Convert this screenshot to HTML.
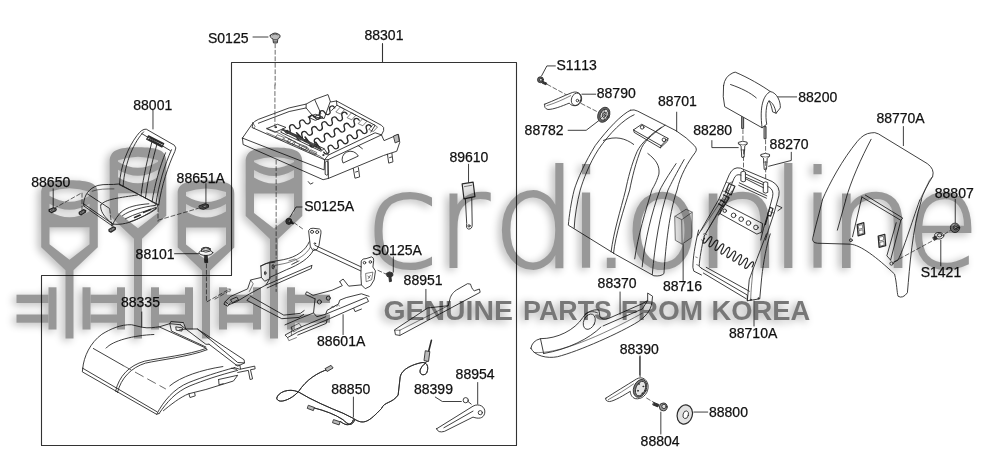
<!DOCTYPE html>
<html lang="en"><head><meta charset="utf-8"><title>crdi.online - GENUINE PARTS FROM KOREA - seat parts diagram</title>
<style>
html,body{margin:0;padding:0;background:#fff}
svg{display:block;filter:grayscale(1)}
.art path,.art line,.art polyline,.art polygon,.art ellipse,.art circle,.art rect{fill:none;stroke:#2a2a2a;stroke-width:0.9;stroke-linecap:round;stroke-linejoin:round}
.art *{vector-effect:non-scaling-stroke}
.art .f{fill:#fff}
.art .k{fill:#333}
.art .g{fill:#bbb}
.art .d{stroke-dasharray:4 2.5;stroke:#444;stroke-width:0.8}
.art .t{stroke-width:0.6}
.lbl text{font-family:"Liberation Sans", sans-serif;font-size:14px;font-kerning:none;fill:#111;stroke:#111;stroke-width:0.25px}
</style></head>
<body>
<svg width="1000" height="471" viewBox="0 0 1000 471">
<defs>
<filter id="sh" x="-5%" y="-15%" width="110%" height="130%">
<feGaussianBlur in="SourceAlpha" stdDeviation="4.5" result="b"/>
<feOffset in="b" dx="-3.5" dy="2" result="o"/>
<feFlood flood-color="#000" flood-opacity="0.72"/>
<feComposite in2="o" operator="in" result="s"/>
<feMerge><feMergeNode in="s"/><feMergeNode in="SourceGraphic"/></feMerge>
</filter>
</defs>
<rect width="1000" height="471" fill="#fff"/>
<g class="art">
<path d="M382.5,43.5 V62.5 M231.5,275.5 V62.5 H516.5 V445.5 H41.5 V275.5 H231.5" style="stroke-width:1.1;stroke:#333"/>
<g transform="translate(70,110) scale(0.22306)">
<path d="M372,0 V85"/>
<path d="M222,335 C225,250 262,165 300,115 Q322,84 342,86 L468,158 Q480,168 470,186 C440,250 410,340 398,425"/>
<path d="M455,178 C425,245 398,330 384,428"/>
<path d="M330,98 C290,140 245,230 238,343"/>
<path d="M322,106 L450,182"/>
<path d="M368,140 C350,210 330,290 318,385"/>
<path d="M390,152 C372,220 350,300 338,396"/>
<path d="M428,192 C405,250 380,330 368,412"/>
<path d="M222,335 L398,425"/>
<path d="M352,116 L420,150 L412,166 L344,131 Z M358,124 L412,151 M354,131 L408,158" style="stroke-width:1.3"/>
</g>
<g transform="translate(30,170) scale(0.16000)">
<path d="M145,118 V235"/>
<path d="M150,240 L320,145 M325,145 V255 M498,245 L512,360 M800,235 V320" class="d"/>
<path d="M120,248 l28,-12 l16,8 l-4,10 l-26,12 l-14,-8 Z" style="fill:#aaa;stroke-width:1.3"/><path d="M134,250 l16,-7 l6,4 l-16,7 Z" class="f t"/>
<path d="M308,264 l26,-16 l14,6 l-2,10 l-26,16 l-12,-6 Z" style="fill:#aaa;stroke-width:1.3"/><path d="M320,266 l16,-10 l6,3 l-16,10 Z" class="f t"/>
<path d="M494,372 l26,-16 l14,6 l-2,10 l-26,16 l-12,-6 Z" style="fill:#aaa;stroke-width:1.3"/><path d="M506,374 l16,-10 l6,3 l-16,10 Z" class="f t"/>
</g>
<g transform="translate(75,178) scale(0.11455)">
<path d="M75,225 C80,150 120,90 200,65 C260,50 320,62 385,52 L550,140 L722,235"/>
<path d="M75,225 L330,402 C400,412 480,392 560,352 C620,322 690,282 722,250 L722,235"/>
<path d="M75,225 L78,245 L328,420 L332,402"/>
<path d="M110,140 L300,265 M225,235 C260,182 400,172 545,148"/>
<path d="M225,235 C215,280 250,340 330,402" />
<path d="M150,115 C200,95 280,95 340,95" class="t"/>
<path d="M400,300 C450,250 550,232 645,225"/>
<path d="M415,328 C480,280 600,252 695,240"/>
<path d="M440,356 C520,312 620,290 705,258"/>
<path d="M480,382 C560,352 640,322 712,268"/>
<path d="M520,345 l50,-22 M600,300 l60,-25" style="stroke-width:1.6"/>
<path d="M330,402 C350,360 380,320 400,300"/>
</g>
<g transform="translate(130,190) scale(0.25478)">
<path d="M298,-25 V55"/>
<path d="M272,62 l22,-8 l14,4 l0,10 l-20,8 l-14,-4 Z" style="fill:#777"/>
<path d="M285,64 l12,-4 l8,3 l-12,5 Z" class="f t"/>
<path d="M112,118 L268,72" class="d"/>
<path d="M175,250 H272"/>
<ellipse cx="298" cy="246" rx="27" ry="11" class="f"/>
<path d="M281,240 v-8 q17,-10 34,0 v8 q-17,8 -34,0 Z" class="f"/>
<ellipse cx="298" cy="231" rx="17" ry="6"/>
<path d="M293,257 h10 l2,28 h-10 Z" class="k"/>
<path d="M300,290 V440 L392,388" class="d"/>
</g>
<g transform="translate(70,295) scale(0.21231)">
<path d="M338,80 V150"/>
<path d="M60,345 C65,290 95,225 150,185 C190,160 240,138 290,140 L340,152 C370,158 400,152 420,150 L470,135 L520,140"/>
<path d="M60,345 L58,362 L408,562 L420,558"/>
<path d="M60,345 L410,550"/>
<path d="M408,562 C440,500 490,440 560,412 C620,388 700,362 775,342"/>
<path d="M420,558 C455,505 500,455 565,428 C630,402 700,378 790,355"/>
<path d="M215,452 C230,382 280,332 350,312 C420,297 560,282 640,252"/>
<path d="M224,458 C240,392 288,342 355,321 C425,305 565,290 645,258"/>
<path d="M215,452 L224,458"/>
<path d="M110,252 L250,332"/>
<path d="M250,332 L450,442" class="d" style="stroke-dasharray:9 5"/>
<path d="M170,250 C200,215 300,190 395,186"/>
<path d="M420,150 L640,250 L645,258"/>
<path d="M470,135 L478,170 L640,245 M520,140 L545,160 L640,232 L655,232"/>
<path d="M470,135 l5,-10 l60,5 l10,30 l-30,5 M500,150 l30,5 l-3,15 l-25,-4 Z"/>
<path d="M545,160 L600,160 L820,305 L822,320 L790,335 L655,232"/>
<path d="M600,160 L790,318 L822,320"/>
<path d="M470,428 C520,385 620,352 720,337"/>
<path d="M775,342 L800,350 L870,335 L872,348 L850,352 L860,395 L848,398 L840,355 L790,365"/>
<path d="M780,330 l20,0 l3,18 M760,345 l25,5"/>
<path d="M560,465 l5,18 l25,-8 l-3,-14 M700,398 l2,25 l20,-5 M700,398 L790,378 L770,405 L640,445 L560,465 C520,480 470,520 440,545"/>
</g>
<g transform="translate(235,85) scale(0.21231)">
<path d="M188,0 V200" class="d"/>
<path d="M35,250 L80,185 Q90,170 110,162 L255,108 L335,90 L375,68 L438,45 L450,80 L478,75 L690,190 Q705,198 700,215 L690,235"/>
<path d="M35,250 L38,280 L415,446 L440,440 L438,352"/>
<path d="M35,250 L420,400 L422,352 L80,200 L85,180"/>
<path d="M422,352 L438,352 L690,235 L702,262 L770,233 L776,270 L762,312 L700,332 L440,440"/>
<path d="M426,362 q7,-6 12,0 v60 q-6,6 -12,0 Z"/>
<path d="M508,366 A37,35 0 0 1 580,333 Z"/>
<path d="M557,393 l8,46 l22,-6 l-6,-44 M568,410 l10,-3" />
<path d="M718,326 l6,42 l20,-6 l-5,-40 M728,342 l10,-3"/>
<path d="M345,455 l10,12 l12,-6" />
<path d="M748,240 l20,-8 l6,32 l-18,8 Z" class="g"/>
<path d="M110,180 L255,125 L335,108 L370,150 L420,158 L448,80 M375,68 L405,135 L370,150 M335,90 L335,108"/>
<path d="M345,150 l35,-12 l35,14 l-35,14 Z M375,150 l6,-2"/>
<path d="M150,205 l50,-20 l40,15 l-50,22 Z"/>
<path d="M455,120 L480,95 L660,190 L640,222 M480,95 L478,75"/>
<path d="M225,210 L420,300 L440,330 L422,352 M225,210 L215,222 L405,312 L420,300"/>
<path d="M440,330 L660,225 L690,235 M580,285 L600,300"/>
<path d="M150,225 L400,335 L420,350" class="t"/>
<path d="M200,235 l30,12 l-8,14 l-30,-12 Z M255,255 l30,12 l-8,14 l-30,-12 Z M310,280 l30,12 l-8,14 l-30,-12 Z" class="t"/>
<path d="M495,105 l-20,22 l22,10 l18,-20 Z M548,132 l-20,22 l22,10 l18,-20 Z M600,160 l-20,22 l22,10 l18,-20 Z M650,187 l-20,22 l22,10 l18,-20 Z" class="t"/>
<path d="M240,215 l60,28 M250,225 l60,28 M290,225 l40,40 M330,245 l30,40 M380,270 l25,35" style="stroke-width:1.6"/>
<path d="M470.0,108.0 C460.4,90.5 439.2,100.4 446.5,119.0 C453.8,137.6 432.6,147.5 423.0,130.0 C413.4,112.5 392.2,122.4 399.5,141.0 C406.8,159.6 385.6,169.5 376.0,152.0 C366.4,134.5 345.2,144.4 352.5,163.0 C359.8,181.6 338.6,191.5 329.0,174.0 C319.4,156.5 298.2,166.4 305.5,185.0 C312.8,203.6 291.6,213.5 282.0,196.0 C272.4,178.5 251.2,188.4 258.5,207.0 C265.8,225.6 244.6,235.5 235.0,218.0" style="stroke-width:1.3"/><path d="M528.0,137.0 C518.2,119.6 497.0,129.7 504.4,148.3 C511.8,166.9 490.6,177.0 480.8,159.6 C471.0,142.2 449.8,152.3 457.2,170.9 C464.6,189.5 443.4,199.6 433.6,182.2 C423.8,164.8 402.6,174.9 410.0,193.5 C417.4,212.1 396.2,222.2 386.4,204.8 C376.6,187.4 355.4,197.5 362.8,216.1 C370.2,234.7 349.0,244.8 339.2,227.4 C329.4,210.0 308.2,220.1 315.6,238.7 C323.0,257.3 301.8,267.4 292.0,250.0" style="stroke-width:1.3"/><path d="M585.0,166.0 C574.9,148.8 553.9,159.3 561.7,177.7 C569.5,196.1 548.5,206.6 538.4,189.4 C528.3,172.2 507.3,182.7 515.1,201.1 C522.9,219.5 501.9,230.0 491.8,212.8 C481.7,195.6 460.7,206.1 468.5,224.5 C476.3,242.9 455.3,253.4 445.2,236.2 C435.1,219.0 414.1,229.5 421.9,247.9 C429.7,266.3 408.7,276.8 398.6,259.6 C388.5,242.4 367.5,252.9 375.3,271.3 C383.1,289.7 362.1,300.2 352.0,283.0" style="stroke-width:1.3"/><path d="M642.0,196.0 C631.5,179.0 611.3,189.8 619.6,208.0 C627.9,226.2 607.7,237.0 597.2,220.0 C586.7,203.0 566.5,213.8 574.8,232.0 C583.1,250.2 562.9,261.0 552.4,244.0 C541.9,227.0 521.7,237.8 530.0,256.0 C538.3,274.2 518.1,285.0 507.6,268.0 C497.1,251.0 476.9,261.8 485.2,280.0 C493.5,298.2 473.3,309.0 462.8,292.0 C452.3,275.0 432.1,285.8 440.4,304.0 C448.7,322.2 428.5,333.0 418.0,316.0" style="stroke-width:1.3"/></g>
<g transform="translate(215,215) scale(0.25478)">
<path d="M240,-215 V170 M240,215 V300" class="d"/>
<path d="M310,30 L345,55" class="d"/>
<circle cx="290" cy="25" r="12" style="fill:#555"/><circle cx="293" cy="25" r="5.5" style="fill:#ccc"/><path d="M296,28 l10,5" style="stroke-width:2"/>
<path d="M368,60 Q372,50 385,52 L410,55 Q418,58 416,70 L408,120 L400,135 L385,140 L375,125 Z"/>
<circle cx="381" cy="66" r="6"/><circle cx="401" cy="67" r="6"/><circle cx="392" cy="112" r="3"/>
<path d="M370,105 C355,140 320,165 270,175 L215,185 L180,200"/>
<path d="M385,140 C370,170 330,195 280,215 L215,245"/>
<path d="M375,125 C360,155 325,178 275,190 L235,198" class="t"/>
<path d="M290,180 l25,-8 l10,10 l-20,10 M300,195 l30,-15" class="t"/>
<path d="M180,200 L182,245 L195,260 L215,250 L215,185 M180,200 L200,190 L235,185"/>
<ellipse cx="228" cy="203" rx="4" ry="9"/><ellipse cx="197" cy="228" rx="3" ry="7"/>
<path d="M182,245 L140,255 L128,290 L60,320 L40,340 L55,352 L85,340 L135,310 L200,275 L215,250"/>
<path d="M140,255 L150,270 L135,300" class="t"/>
<path d="M200,275 L380,198 M205,286 L378,210 L380,198"/>
<path d="M40,340 L35,350 L50,358 L60,345 M62,332 L85,322 L92,332 L70,344 Z"/>
<path d="M0,330 L55,298" class="d"/><path d="M50,290 l12,3 l-5,9" class="t"/>
<path d="M135,325 L125,335 L262,407 L330,402 L348,390 M138,318 L270,393 L335,386 L350,375"/>
<path d="M300,440 L330,425 L340,440 L310,458 Z M300,440 V471" class="t"/>
</g>
<g transform="translate(285,225) scale(0.25478)">
<path d="M118,80 L300,165 M112,94 L297,180"/>
<path d="M300,140 Q305,130 318,132 L340,125 Q350,128 348,140 L345,165 L355,180 L350,215 L335,240 L315,250 L300,235 L298,200 Z"/>
<circle cx="312" cy="148" r="5"/><circle cx="335" cy="145" r="5"/>
<path d="M318,190 L345,185 L340,215 L320,222 Z M325,200 l8,8 M335,198 l-8,12" class="t"/>
<path d="M215,222 L228,212 L250,240 L300,235 M215,222 L225,238 L185,256 L110,276 L85,262 L80,272 L118,290"/>
<path d="M118,290 L112,345 L125,360 L160,350 L165,335 L210,310 L215,295 L240,285 L300,270 L330,280"/>
<circle cx="135" cy="302" r="8"/><circle cx="170" cy="287" r="8"/>
<path d="M180,325 q5,-12 12,-2 q6,-12 12,-4 q5,-10 10,-2" class="t"/>
<path d="M0,392 L60,366 L112,345 M160,350 L320,284 L328,300 L165,372 L50,420 L10,442 L0,432 L40,410 L160,360"/>
<path d="M165,372 L162,386 L50,432 M270,328 l5,12 l25,-10"/>
<path d="M10,442 l5,12 l30,-12" class="t"/>
<path d="M228,352 V430"/>
<path d="M365,178 L395,192" class="d"/>
<path d="M398,190 l12,-6 l12,4 l2,10 l-10,8 l-12,-4 Z" class="k"/><path d="M408,205 l2,18 l8,-2 l-2,-16" class="k"/>
<path d="M425,125 V185"/>
</g>
<path d="M302,207 H296 L290,217"/>
<g transform="translate(265,330) scale(0.26001)">
<path d="M340,258 V335 M818,202 V285 M655,258 L682,275 H755"/>
<g style="stroke-width:2.6;stroke:#333"><path d="M245,150 C200,165 160,190 128,238 C90,222 50,240 45,262 C50,287 100,268 128,238 C180,270 250,300 300,320 L340,340 C380,368 400,352 448,302 C458,276 490,282 512,250 L520,180 C525,150 570,132 600,126 C622,120 632,140 622,165 C610,180 590,170 598,150 C605,135 618,128 626,118"/>
<path d="M190,300 C230,310 270,325 300,345 C320,365 335,372 345,345 M290,352 C310,368 330,372 340,345"/></g>
<g style="stroke-width:1;stroke:#fff"><path d="M245,150 C200,165 160,190 128,238 C90,222 50,240 45,262 C50,287 100,268 128,238 C180,270 250,300 300,320 L340,340 C380,368 400,352 448,302 C458,276 490,282 512,250 L520,180 C525,150 570,132 600,126 C622,120 632,140 622,165 C610,180 590,170 598,150 C605,135 618,128 626,118"/>
<path d="M190,300 C230,310 270,325 300,345 C320,365 335,372 345,345 M290,352 C310,368 330,372 340,345"/></g>
<path d="M232,148 l22,-12 l8,10 l-22,13 Z" class="g"/>
<path d="M168,290 l22,8 l-4,12 l-22,-8 Z" class="g"/>
<path d="M265,345 l24,8 l-4,12 l-24,-8 Z" class="g"/>
<path d="M618,80 l16,3 l-5,38 l-16,-3 Z" class="g"/><path d="M630,80 L640,40" style="stroke-width:1.6"/>
<path d="M660,380 L800,293 C822,280 850,295 845,320 C840,342 820,342 800,335 L690,390 Q665,397 660,380 Z" class="f"/>
<path d="M688,376 L800,312"/>
<circle cx="828" cy="318" r="8"/>
<circle cx="772" cy="270" r="10"/><path d="M781,275 l12,10"/>
</g>
<g transform="translate(390,130) scale(0.45662)">
<path d="M172,75 V115"/>
<path d="M158,118 l24,-4 l4,32 l-24,5 Z" style="fill:#e8e8e8;stroke-width:1.2"/>
<path d="M163,124 l16,-3" class="t"/>
<path d="M165,150 L168,205 Q166,216 172,217 Q180,217 180,208 L179,148"/>
<circle cx="173" cy="210" r="2.5"/>
</g>
<g transform="translate(385,270) scale(0.14870)">
<path d="M275,130 V262"/>
<path d="M65,405 L70,435 L100,440 L640,150 L635,128 L600,140 C585,130 580,110 575,95 L555,92 L480,135 C450,155 440,180 435,200 L425,240 L290,255 Z"/>
<path d="M100,405 V440 M100,405 H66 M100,405 L425,240" class="t"/>
</g>
<g transform="translate(515,50) scale(0.21245)">
<path d="M190,75 H150 L125,122 M380,208 H315 M250,378 H335 L395,332"/>
<circle cx="120" cy="140" r="14" style="fill:#666"/><circle cx="122" cy="140" r="7" style="fill:#ddd"/>
<path d="M132,148 l18,8 l-4,8 l-18,-8 Z" class="k"/>
<path d="M152,162 L262,222 M312,252 L398,296" class="d"/>
<path d="M140,255 C180,240 230,215 270,200 C300,190 320,215 312,240 C305,265 270,270 255,250 C220,265 180,280 155,280 Q135,275 140,255 Z" class="f"/>
<ellipse cx="288" cy="232" rx="22" ry="30" transform="rotate(20 288 232)"/>
<circle cx="294" cy="238" r="6"/>
<path d="M150,262 C190,250 230,232 262,215" class="t"/>
<ellipse cx="418" cy="305" rx="27" ry="37" transform="rotate(25 418 305)" style="fill:#666"/>
<ellipse cx="420" cy="305" rx="18" ry="27" transform="rotate(25 420 305)" style="fill:#ddd"/>
<ellipse cx="420" cy="305" rx="8" ry="13" transform="rotate(25 420 305)" class="f"/>
<path d="M405,290 l30,30 M435,290 l-30,30 M420,280 v50" class="t"/>
</g>
<g transform="translate(555,95) scale(0.20178)">
<path d="M603,85 V180"/>
<path d="M375,75 C330,95 260,170 200,250 C150,330 110,420 95,471 C80,530 70,600 66,645 L300,790 L490,896 Q525,900 540,885 C545,800 560,600 605,471 C620,400 660,330 695,285 Q708,268 690,250 Q655,212 600,177 L410,80 Q392,70 375,75"/>
<path d="M392,98 C340,120 270,190 215,270 C170,340 140,420 125,471 C110,530 98,600 95,660"/>
<path d="M545,150 C500,180 450,220 430,260 C400,330 380,420 370,471 C340,570 300,690 290,785"/>
<path d="M528,160 C480,190 425,240 407,280 C380,340 360,420 350,471 C325,570 290,680 278,777"/>
<path d="M240,225 C300,200 350,215 390,245 M460,290 C500,320 520,350 515,392 C500,440 485,460 480,471 C450,570 410,700 395,812"/>
<path d="M600,340 C560,400 535,440 520,471 C480,580 445,720 432,852"/>
<path d="M640,320 C600,390 575,440 560,471 C520,590 495,740 482,890"/>
<path d="M390,172 L430,145 L560,215 L527,250 Z M390,172 L392,185 L522,262 L527,250 M560,215 L558,228 L522,262"/>
<circle cx="432" cy="160" r="9"/><circle cx="540" cy="222" r="9"/>
<path d="M595,601 L650,566 L680,581 L678,706 L630,739 L598,721 Z" style="fill:#e6e6e6;stroke:#666"/>
<path d="M595,601 L628,618 L680,581 M628,618 L630,739" style="stroke:#666"/>
<path d="M635,741 V926"/>
</g>
<g transform="translate(685,60) scale(0.23359)">
<path d="M478,158 H385 M115,345 V375 H228 M455,395 V430 L358,455"/>
<path d="M244,235 h7 v58 h-7 Z M340,285 h7 v52 h-7 Z" class="g" style="fill:#999"/>
<path d="M165,110 Q170,70 205,55 L215,52 C270,75 330,110 365,135 C395,140 410,180 408,205 L390,228 C385,200 375,182 360,175 C347,185 343,240 350,275 L330,290 L170,200 Q160,160 165,110 Z" class="f"/>
<path d="M195,105 C240,120 280,140 305,162 M365,135 C335,150 318,200 330,290 M360,175 C368,190 372,205 375,222 L390,228" />
<path d="M248,298 V345 M345,342 V398" class="d"/>
<path d="M230,352 q18,-9 36,0 v8 q-8,5 -10,8 l-3,48 q-5,4 -10,0 l-3,-48 q-2,-3 -10,-8 Z" class="f"/>
<path d="M230,360 q18,8 36,0 M240,385 h16" class="t"/>
<path d="M326,404 q18,-9 36,0 v8 q-8,5 -10,8 l-3,48 q-5,4 -10,0 l-3,-48 q-2,-3 -10,-8 Z" class="f"/>
<path d="M326,412 q18,8 36,0 M336,437 h16" class="t"/>
</g>
<g transform="translate(690,150) scale(0.19109)">
<path d="M280,0 V110 M396,60 V160" class="d"/>
<path d="M40,450 L150,260 L205,130 Q225,85 265,95 L430,165 Q475,190 465,240 L440,330 L410,420 L395,471"/>
<path d="M75,450 L185,258 L230,150 Q240,125 262,130 L415,195 Q440,210 432,245 L412,320 L385,410 L370,471"/>
<path d="M150,260 q15,12 35,-2 M440,330 q-12,0 -28,-10 M170,215 q18,8 34,-4 M190,170 q16,10 34,-4" class="t"/>
<path d="M268,115 q10,-8 22,0 v48 q-12,8 -22,0 Z M385,170 q10,-8 22,0 v52 q-12,8 -22,0 Z" class="f"/>
<path d="M290,125 L385,170 M290,150 L385,198 M255,185 L400,252 M258,172 L402,240"/>
<path d="M165,300 L185,285 L380,385 L375,430 L350,440 L160,335 Z"/>
<circle cx="182" cy="318" r="9"/><circle cx="228" cy="342" r="12"/><circle cx="268" cy="362" r="12"/><circle cx="306" cy="382" r="12"/><circle cx="345" cy="405" r="12"/>
<path d="M455,290 L482,302 L460,318"/>
<path d="M205,175 L235,190 L215,235 L185,220 Z M175,235 L205,250 L150,340 M160,262 l22,12 M150,282 l22,12" style="stroke-width:1.2"/>
<path d="M418,300 l16,6 l-12,40 l-16,-6 Z M408,345 l-14,45" style="stroke-width:1.2"/>
<path d="M200,200 C170,260 120,330 60,420 M218,215 C190,270 140,340 85,430" class="t"/>
<path d="M45,419 C25,500 15,570 15,614 L20,634 L60,654 M75,449 C60,510 50,570 48,609 L60,619"/>
<path d="M60,619 L300,759 L300,789 M70,644 L295,779 M85,614 L310,739" />
<path d="M400,439 C370,520 330,620 310,679 L300,789 L365,779 L375,669 C385,580 400,500 420,439"/>
<path d="M330,620 C325,680 318,740 318,780" class="t"/>
<circle cx="318" cy="784" r="3"/><circle cx="358" cy="776" r="3"/>
<path d="M30,560 l8,3 M35,600 l10,4 M60,470 l12,6 M70,440 q10,-10 18,2" class="t"/>
<path d="M76.0,461.0 C59.5,489.9 73.5,498.4 91.6,470.4 C109.6,442.5 123.6,451.0 107.1,479.9 C90.7,508.8 104.7,517.3 122.7,489.3 C140.7,461.4 154.7,469.8 138.2,498.8 C121.8,527.7 135.8,536.1 153.8,508.2 C171.8,480.2 185.8,488.7 169.4,517.6 C152.9,546.5 166.9,555.0 184.9,527.1 C203.0,499.1 217.0,507.6 200.5,536.5 C184.0,565.4 198.0,573.9 216.1,545.9 C234.1,518.0 248.1,526.5 231.6,555.4 C215.2,584.3 229.2,592.8 247.2,564.8 C265.2,536.9 279.2,545.3 262.8,574.2 C246.3,603.2 260.3,611.6 278.3,583.7 C296.3,555.7 310.3,564.2 293.9,593.1 C277.4,622.0 291.4,630.5 309.4,602.6 C327.5,574.6 341.5,583.1 325.0,612.0" style="stroke-width:1.2"/>
</g>
<path d="M754,301 V326"/>
<g transform="translate(800,100) scale(0.21227)">
<path d="M487,125 V215"/>
<path d="M105,471 C140,390 200,280 270,195 Q300,158 335,155 Q352,150 370,160 L600,300 Q635,325 625,360 C600,400 580,440 570,471"/>
<path d="M335,185 C290,270 240,380 215,471"/>
<path d="M625,360 L610,378 C590,420 575,450 565,471" class="t"/>
</g>
<g transform="translate(800,190) scale(0.23348)">
<path d="M665,40 V140 M603,215 V325"/>
<path d="M96,43 C85,90 65,160 55,205 Q50,226 75,228 L215,232 C260,235 330,290 405,360 C415,400 415,440 420,455 Q440,467 460,440 C470,330 480,170 520,43"/>
<path d="M196,43 L160,172 M513,43 C475,150 445,250 420,300 L402,310"/>
<path d="M265,30 L432,130 L388,300 M280,22 L440,120 L432,130 M412,140 L372,282 L388,300 M265,30 L225,200"/>
<path d="M245,148 l28,-8 l4,48 l-28,8 Z M335,198 l28,-8 l4,48 l-28,8 Z" style="stroke-width:1.3"/>
<path d="M251,152 l16,-4 l2,16 l-16,4 Z M253,174 l16,-4 l2,16 l-16,4 Z M341,202 l16,-4 l2,16 l-16,4 Z M343,224 l16,-4 l2,16 l-16,4 Z" class="t"/>
<circle cx="218" cy="215" r="6"/><circle cx="392" cy="315" r="7"/>
<path d="M402,308 L572,215 M618,190 L645,172" class="d"/>
<ellipse cx="596" cy="196" rx="20" ry="14" class="f"/><ellipse cx="598" cy="194" rx="10" ry="7"/>
<path d="M570,203 l12,-6 l6,12 l-12,6 Z" class="k"/>
<circle cx="664" cy="162" r="20" class="g" style="fill:#aaa"/><circle cx="668" cy="160" r="11" class="f"/><circle cx="668" cy="160" r="6"/>
</g>
<g transform="translate(515,275) scale(0.21227)">
<path d="M495,80 V185 M588,385 V471"/>
<path d="M75,345 Q80,310 120,300 C200,300 280,260 320,200 C335,175 370,160 395,165 L400,195 Q410,215 440,205 L600,135 L625,120 L625,85 L648,100 L645,130 C640,170 610,200 580,220 C500,270 300,360 200,385 C150,395 90,380 75,345 Z"/>
<ellipse cx="350" cy="220" rx="26" ry="38" transform="rotate(25 350 220)"/>
<path d="M120,300 L135,370 M135,370 C250,350 350,300 405,245 M415,240 L600,160 L625,120 M330,185 C345,170 372,170 388,178" />
<path d="M90,365 C200,375 400,290 600,180" class="t"/>
</g>
<g transform="translate(590,340) scale(0.24426)">
<path d="M205,65 V150 M482,295 H425 M290,295 V385"/>
<path d="M65,238 C100,215 150,185 190,160 C215,145 240,165 238,195 C235,225 210,245 185,240 C170,235 165,220 165,210 C140,225 100,250 80,252 Q60,250 65,238 Z" class="f"/>
<path d="M75,244 C110,225 150,200 178,180" class="t"/>
<ellipse cx="205" cy="198" rx="26" ry="38" transform="rotate(22 205 198)" style="fill:#777"/>
<ellipse cx="207" cy="199" rx="19" ry="31" transform="rotate(22 207 199)" style="fill:#e4e4e4"/>
<circle cx="200" cy="180" r="2"/><circle cx="214" cy="218" r="2"/><circle cx="196" cy="208" r="2"/><circle cx="218" cy="190" r="2"/>
<path d="M232,238 L262,256" class="d"/>
<path d="M262,256 l20,8 l-4,10 l-20,-8 Z" class="k"/>
<circle cx="300" cy="274" r="16" class="g" style="fill:#999"/><circle cx="303" cy="272" r="9" class="g" style="fill:#ddd"/>
<ellipse cx="388" cy="305" rx="31" ry="40" transform="rotate(15 388 305)" style="fill:#e2e2e2;stroke-width:1.2"/>
<ellipse cx="392" cy="306" rx="11" ry="16" transform="rotate(15 392 306)" class="f"/>
</g>
<path d="M253,37 H268"/>
<g transform="translate(200,20) scale(0.21231)">
<path d="M331,72 q22,-22 46,0 q4,12 -10,16 l-3,20 h-18 l-3,-20 q-16,-4 -12,-16 Z" class="g" style="fill:#bbb"/>
<path d="M341,70 q12,-9 26,0 M347,92 h14 M347,100 h14" class="t"/>
<path d="M354,112 V306" class="d"/>
</g>
<g transform="translate(238,112) scale(0.14451)">
<path d="M200,112 L290,150 L545,292" class="t"/>
<path d="M310,122 L565,252" style="stroke-width:2.2;stroke:#444"/>
<circle cx="410" cy="165" r="8" style="fill:#555"/><circle cx="470" cy="196" r="8" style="fill:#555"/><circle cx="540" cy="232" r="8" style="fill:#555"/><circle cx="340" cy="132" r="6" style="fill:#555"/>
<path d="M330,175 l40,18 l-12,16 l-40,-18 Z M390,205 l40,18 l-12,16 l-40,-18 Z M450,235 l40,18 l-12,16 l-40,-18 Z M505,262 l40,18 l-12,16 l-40,-18 Z" class="t"/>
<circle cx="262" cy="105" r="4" class="k"/><circle cx="590" cy="298" r="4" class="k"/>
<path d="M100,72 L118,100 L110,112" class="t"/>
</g>
</g>
<g class="lbl">
<text x="208.0" y="43.4">S0125</text>
<text x="364.5" y="39.7">88301</text>
<text x="133.3" y="109.6">88001</text>
<text x="31.3" y="187.2">88650</text>
<text x="176.6" y="182.7">88651A</text>
<text x="135.6" y="258.8">88101</text>
<text x="121.0" y="307.3">88335</text>
<text x="304.2" y="211.4">S0125A</text>
<text x="372.0" y="254.5">S0125A</text>
<text x="449.4" y="162.0">89610</text>
<text x="403.6" y="284.9">88951</text>
<text x="317.0" y="346.1">88601A</text>
<text x="331.3" y="393.7">88850</text>
<text x="414.0" y="393.7">88399</text>
<text x="455.6" y="378.6">88954</text>
<text x="556.4" y="69.5">S1113</text>
<text x="596.8" y="97.8">88790</text>
<text x="524.6" y="134.6">88782</text>
<text x="657.9" y="106.1">88701</text>
<text x="693.2" y="135.2">88280</text>
<text x="769.6" y="148.8">88270</text>
<text x="798.3" y="101.6">88200</text>
<text x="876.4" y="122.9">88770A</text>
<text x="934.8" y="198.2">88807</text>
<text x="920.7" y="276.9">S1421</text>
<text x="663.0" y="291.4">88716</text>
<text x="597.6" y="287.5">88370</text>
<text x="729.0" y="338.0">88710A</text>
<text x="619.8" y="354.2">88390</text>
<text x="709.0" y="416.9">88800</text>
<text x="640.6" y="446.3">88804</text>
</g>
<g opacity="0.4" filter="url(#sh)" fill="#000">
<path transform="translate(69.5,180.2)" fill-rule="evenodd" d="M-28.3,67 L-28.3,13 C-28.3,3 -20,0 0,0 C20,0 28.3,3 28.3,13 L28.3,67 L4,90 L4,158.3 L-4,158.3 L-4,90 Z M-20,11.5 Q0,4.5 20,11.5 L20,15.5 Q0,27.5 -20,15.5 Z M-20,23.5 Q0,35.5 20,23.5 L20,31.0 Q0,43.0 -20,31.0 Z M-20,47.0 L20,47.0 L20,64 L0,79.5 L-20,64 Z"/>
<path transform="translate(138,148.8)" fill-rule="evenodd" d="M-28.3,67 L-28.3,13 C-28.3,1.5 -20,-1.5 0,-1.5 C20,-1.5 28.3,1.5 28.3,13 L28.3,67 L4,90 L4,189.7 L-4,189.7 L-4,90 Z M-20,11.5 Q0,4.5 20,11.5 L20,13 Q0,25 -20,13 Z M-20,21 Q0,33 20,21 L20,28.5 Q0,40.5 -20,28.5 Z M-20,44.5 L20,44.5 L20,64 L0,79.5 L-20,64 Z"/>
<path transform="translate(206,180.6)" fill-rule="evenodd" d="M-28.3,67 L-28.3,13 C-28.3,3 -20,0 0,0 C20,0 28.3,3 28.3,13 L28.3,67 L4,90 L4,157.9 L-4,157.9 L-4,90 Z M-20,11.5 Q0,4.5 20,11.5 L20,15.5 Q0,27.5 -20,15.5 Z M-20,23.5 Q0,35.5 20,23.5 L20,31.0 Q0,43.0 -20,31.0 Z M-20,47.0 L20,47.0 L20,64 L0,79.5 L-20,64 Z"/>
<path transform="translate(274,149)" fill-rule="evenodd" d="M-28.3,67 L-28.3,13 C-28.3,1.5 -20,-1.5 0,-1.5 C20,-1.5 28.3,1.5 28.3,13 L28.3,67 L4,90 L4,189.5 L-4,189.5 L-4,90 Z M-20,11.5 Q0,4.5 20,11.5 L20,13 Q0,25 -20,13 Z M-20,21 Q0,33 20,21 L20,28.5 Q0,40.5 -20,28.5 Z M-20,44.5 L20,44.5 L20,64 L0,79.5 L-20,64 Z"/>
<rect x="48.5" y="287.3" width="8.0" height="42.19999999999999"/>
<rect x="82.5" y="287.3" width="8.0" height="42.19999999999999"/>
<rect x="117" y="287.3" width="8" height="42.19999999999999"/>
<rect x="151" y="287.3" width="8" height="42.19999999999999"/>
<rect x="185" y="287.3" width="8" height="42.19999999999999"/>
<rect x="219" y="287.3" width="8" height="42.19999999999999"/>
<rect x="253" y="287.3" width="8" height="42.19999999999999"/>
<rect x="287" y="287.3" width="8" height="42.19999999999999"/>
<rect x="16.5" y="294.7" width="32.0" height="8.300000000000011"/>
<rect x="16.5" y="314.5" width="32.0" height="8.199999999999989"/>
<rect x="90.5" y="294.7" width="26.5" height="8.300000000000011"/>
<rect x="90.5" y="314.5" width="26.5" height="8.199999999999989"/>
<rect x="159" y="294.7" width="26" height="8.300000000000011"/>
<rect x="159" y="314.5" width="26" height="8.199999999999989"/>
<rect x="227" y="294.7" width="26" height="8.300000000000011"/>
<rect x="227" y="314.5" width="26" height="8.199999999999989"/>
<rect x="295" y="294.7" width="35" height="8.300000000000011"/>
<rect x="295" y="314.5" width="35" height="8.199999999999989"/>
<text y="267" font-family="'DejaVu Sans Light', 'DejaVu Sans', sans-serif" font-weight="200" font-size="132" stroke="#000" stroke-width="2.2"><tspan x="366.5">c</tspan><tspan x="435.4">r</tspan><tspan x="492.3" font-size="134.6">d</tspan><tspan x="568.1" font-size="134.0">i</tspan><tspan x="590.2">.</tspan><tspan x="623.4" textLength="77.9" lengthAdjust="spacingAndGlyphs">o</tspan><tspan x="694.1" textLength="89.1" lengthAdjust="spacingAndGlyphs">n</tspan><tspan x="770" font-size="134.6">l</tspan><tspan x="799.5" font-size="134.0">i</tspan><tspan x="827.3" textLength="89.1" lengthAdjust="spacingAndGlyphs">n</tspan><tspan x="906.3" textLength="73.1" lengthAdjust="spacingAndGlyphs">e</tspan></text>
</g>
<g opacity="0.53" filter="url(#sh)" fill="#000">
<text x="383.5" y="320.3" font-family='"Liberation Sans", sans-serif' font-weight="bold" font-size="27" textLength="129.5" lengthAdjust="spacingAndGlyphs">GENUINE</text>
<text x="523" y="320.3" font-family='"Liberation Sans", sans-serif' font-weight="bold" font-size="27" textLength="89" lengthAdjust="spacingAndGlyphs">PARTS</text>
<text x="620.7" y="320.3" font-family='"Liberation Sans", sans-serif' font-weight="bold" font-size="27" textLength="82.5" lengthAdjust="spacingAndGlyphs">FROM</text>
<text x="711.5" y="320.3" font-family='"Liberation Sans", sans-serif' font-weight="bold" font-size="27" textLength="98.79999999999995" lengthAdjust="spacingAndGlyphs">KOREA</text>
</g>
</svg>
</body></html>
